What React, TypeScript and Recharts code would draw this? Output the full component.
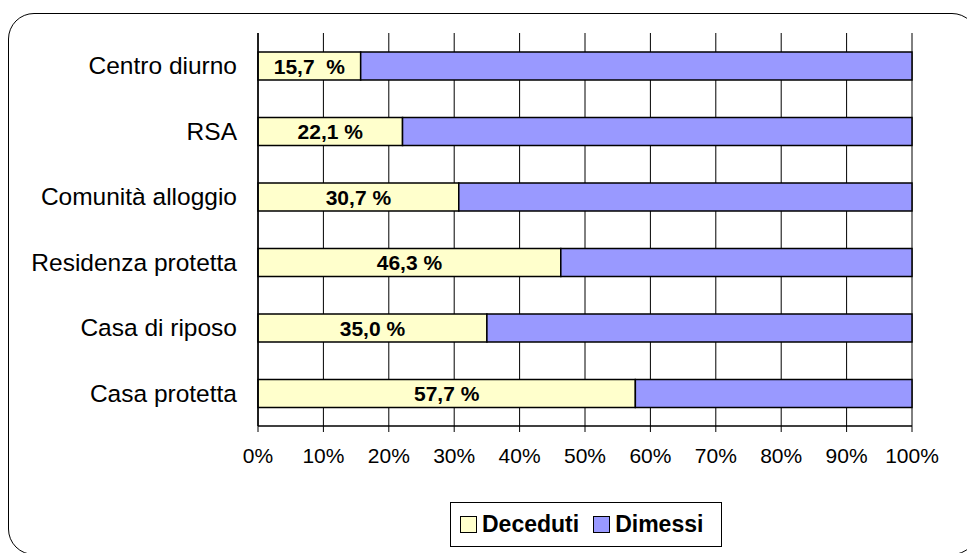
import React from 'react';
import {
  BarChart, Bar, XAxis, YAxis, CartesianGrid, LabelList,
} from 'recharts';

// ── data ──────────────────────────────────────────────────────────────────────

const categories = [
  'Centro diurno',
  'RSA',
  'Comunità alloggio',
  'Residenza protetta',
  'Casa di riposo',
  'Casa protetta',
];
const deceduti = [15.7, 22.1, 30.7, 46.3, 35.0, 57.7];
const dimessi = [84.3, 77.9, 69.3, 53.7, 65.0, 42.3];
const decedutiLabels = ['15,7  %', '22,1 %', '30,7 %', '46,3 %', '35,0 %', '57,7 %'];
const xTicks = [0, 10, 20, 30, 40, 50, 60, 70, 80, 90, 100];

const series = [
  { key: 'deceduti', name: 'Deceduti', color: '#FFFFCC' },
  { key: 'dimessi', name: 'Dimessi', color: '#9999FF' },
];

const rows = categories.map((name, i) => ({
  name,
  deceduti: deceduti[i],
  dimessi: dimessi[i],
  label: decedutiLabels[i],
}));

const FONT = 'Arial, "Liberation Sans", sans-serif';

// ── bits ──────────────────────────────────────────────────────────────────────

function BarText(props: any) {
  const { x, y, width, height, index } = props;
  return (
    <text
      x={x + width / 2}
      y={y + height / 2}
      textAnchor="middle"
      dominantBaseline="central"
      style={{ whiteSpace: 'pre' }}
      fontFamily={FONT}
      fontWeight="bold"
      fontSize={21}
      fill="#000"
    >
      {decedutiLabels[index]}
    </text>
  );
}

function ChartLegend() {
  return (
    <div
      style={{
        position: 'absolute', left: 450, top: 502, width: 272, height: 45,
        boxSizing: 'border-box', border: '1.5px solid #000', background: '#fff',
        display: 'flex', alignItems: 'center', paddingLeft: 9,
        fontFamily: FONT, fontWeight: 'bold', fontSize: 23,
      }}
    >
      {series.map((s, i) => (
        <div key={s.key} style={{ display: 'flex', alignItems: 'center', marginRight: i === 0 ? 14 : 0 }}>
          <span
            style={{
              display: 'inline-block', width: 17, height: 17, boxSizing: 'border-box',
              background: s.color, border: '1.5px solid #000', marginRight: 5,
            }}
          />
          <span>{s.name}</span>
        </div>
      ))}
    </div>
  );
}

// ── main ──────────────────────────────────────────────────────────────────────

export default function App() {
  return (
    <div
      style={{
        position: 'absolute', left: 0, top: 0, width: 967, height: 553,
        overflow: 'hidden', background: '#fff',
      }}
    >
      <div
        style={{
          position: 'absolute', left: 8, top: 13, width: 970, height: 542,
          boxSizing: 'border-box', border: '1.5px solid #000', borderRadius: 26,
        }}
      />
      <BarChart
        width={967}
        height={553}
        data={rows}
        layout="vertical"
        margin={{ top: 33, right: 55, left: 0, bottom: 0 }}
        style={{ position: 'absolute', left: 0, top: 0 }}
      >
        <CartesianGrid horizontal={false} stroke="#000" strokeWidth={1} />
        <XAxis
          type="number"
          domain={[0, 100]}
          ticks={xTicks}
          tickFormatter={(v) => `${v}%`}
          height={127}
          tickSize={6}
          tickMargin={16}
          tick={{ fontSize: 21, fill: '#000', fontFamily: FONT }}
          tickLine={{ stroke: '#000' }}
          axisLine={{ stroke: '#000', strokeWidth: 1.5 }}
          interval={0}
        />
        <XAxis
          xAxisId="top"
          orientation="top"
          type="number"
          domain={[0, 100]}
          height={0}
          tick={false}
          tickLine={false}
          axisLine={{ stroke: '#8a8a8a', strokeWidth: 2 }}
        />
        <YAxis
          type="category"
          dataKey="name"
          width={258}
          tickSize={0}
          tickMargin={21}
          tickLine={false}
          tick={{ fontSize: 24.5, fill: '#000', fontFamily: FONT }}
          axisLine={{ stroke: '#000', strokeWidth: 1.5 }}
          interval={0}
        />
        <YAxis
          yAxisId="right"
          orientation="right"
          type="category"
          dataKey="name"
          width={0}
          tick={false}
          tickLine={false}
          axisLine={{ stroke: '#8a8a8a', strokeWidth: 2 }}
        />
        <Bar
          dataKey="deceduti"
          name="Deceduti"
          stackId="a"
          fill="#FFFFCC"
          stroke="#000"
          strokeWidth={1.5}
          barSize={28}
          isAnimationActive={false}
        >
          <LabelList dataKey="label" content={<BarText />} />
        </Bar>
        <Bar
          dataKey="dimessi"
          name="Dimessi"
          stackId="a"
          fill="#9999FF"
          stroke="#000"
          strokeWidth={1.5}
          barSize={28}
          isAnimationActive={false}
        />
      </BarChart>
      <ChartLegend />
    </div>
  );
}
